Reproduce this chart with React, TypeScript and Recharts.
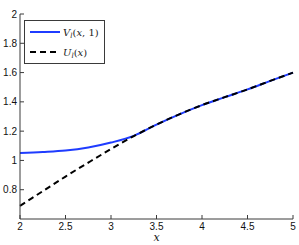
import { LineChart, Line, XAxis, YAxis, Legend } from "recharts";

const xValues = [2, 2.25, 2.5, 2.75, 3, 3.25, 3.5, 3.75, 4, 4.25, 4.5, 4.75, 5];
const vSeries = [1.05, 1.057, 1.067, 1.088, 1.122, 1.168, 1.245, 1.315, 1.378, 1.432, 1.485, 1.543, 1.6];
const uSeries = [0.69, 0.79, 0.89, 0.985, 1.078, 1.166, 1.245, 1.315, 1.378, 1.432, 1.485, 1.543, 1.6];
const xTicks = [2, 2.5, 3, 3.5, 4, 4.5, 5];
const yTicks = [0.8, 1, 1.2, 1.4, 1.6, 1.8, 2];

const data = xValues.map((x, i) => ({ x, v: vSeries[i], u: uSeries[i] }));

const BLUE = "#1f3cff";
const AXIS = "#3a3a3a";
const tickFont = { fontFamily: "Liberation Sans, Arial", fontSize: 10, fill: "#111" };

const LegendBox = () => (
  <svg width={81} height={44} style={{ display: "block" }}>
    <rect x={0.5} y={0.5} width={80} height={43} fill="#fff" stroke={AXIS} />
    <line x1={6} y1={12} x2={36} y2={12} stroke={BLUE} strokeWidth={2} />
    <text x={39} y={16} fontFamily="DejaVu Serif, serif" fontSize={10} fontStyle="italic" fill="#222">
      V<tspan fontSize={7} dy={2}>l</tspan>
      <tspan dy={-2} fontStyle="normal">(</tspan>x<tspan fontStyle="normal">, 1)</tspan>
    </text>
    <line x1={6} y1={32} x2={36} y2={32} stroke="#000" strokeWidth={2} strokeDasharray="6 4" />
    <text x={39} y={36} fontFamily="DejaVu Serif, serif" fontSize={10} fontStyle="italic" fill="#222">
      U<tspan fontSize={7} dy={2}>l</tspan>
      <tspan dy={-2} fontStyle="normal">(</tspan>x<tspan fontStyle="normal">)</tspan>
    </text>
  </svg>
);

export default function App() {
  return (
    <div style={{ position: "absolute", left: 0, top: 0 }}>
      <LineChart
        width={299}
        height={245}
        data={data}
        margin={{ top: 14, right: 6, bottom: 0, left: 0 }}
      >
        <XAxis
          xAxisId="bottom"
          dataKey="x"
          type="number"
          domain={[2, 5]}
          ticks={xTicks}
          height={26}
          stroke={AXIS}
          tickSize={-4}
          tickMargin={8}
          tick={tickFont}
          label={{
            value: "x",
            position: "insideBottom",
            offset: 4,
            style: { fontFamily: "DejaVu Serif, serif", fontStyle: "italic", fontSize: 11, fill: "#111" },
          }}
        />
        <XAxis
          xAxisId="top"
          orientation="top"
          dataKey="x"
          type="number"
          domain={[2, 5]}
          ticks={xTicks}
          height={0}
          stroke={AXIS}
          tickSize={-4}
          tickFormatter={() => ""}
        />
        <YAxis
          yAxisId="left"
          type="number"
          domain={[0.6, 2]}
          ticks={yTicks}
          width={20}
          stroke={AXIS}
          tickSize={-4}
          tickMargin={7}
          tick={tickFont}
        />
        <YAxis
          yAxisId="right"
          orientation="right"
          type="number"
          domain={[0.6, 2]}
          ticks={yTicks}
          width={0}
          stroke={AXIS}
          tickSize={-4}
          tickFormatter={() => ""}
        />
        <Legend
          layout="vertical"
          verticalAlign="middle"
          align="center"
          wrapperStyle={{ left: 24, top: 20, width: 81 }}
          content={() => <LegendBox />}
        />
        <Line
          xAxisId="bottom"
          yAxisId="left"
          dataKey="v"
          type="monotone"
          stroke={BLUE}
          strokeWidth={2}
          dot={false}
          isAnimationActive={false}
        />
        <Line
          xAxisId="bottom"
          yAxisId="left"
          dataKey="u"
          type="monotone"
          stroke="#000"
          strokeWidth={2}
          strokeDasharray="6 4"
          dot={false}
          isAnimationActive={false}
        />
      </LineChart>
    </div>
  );
}
